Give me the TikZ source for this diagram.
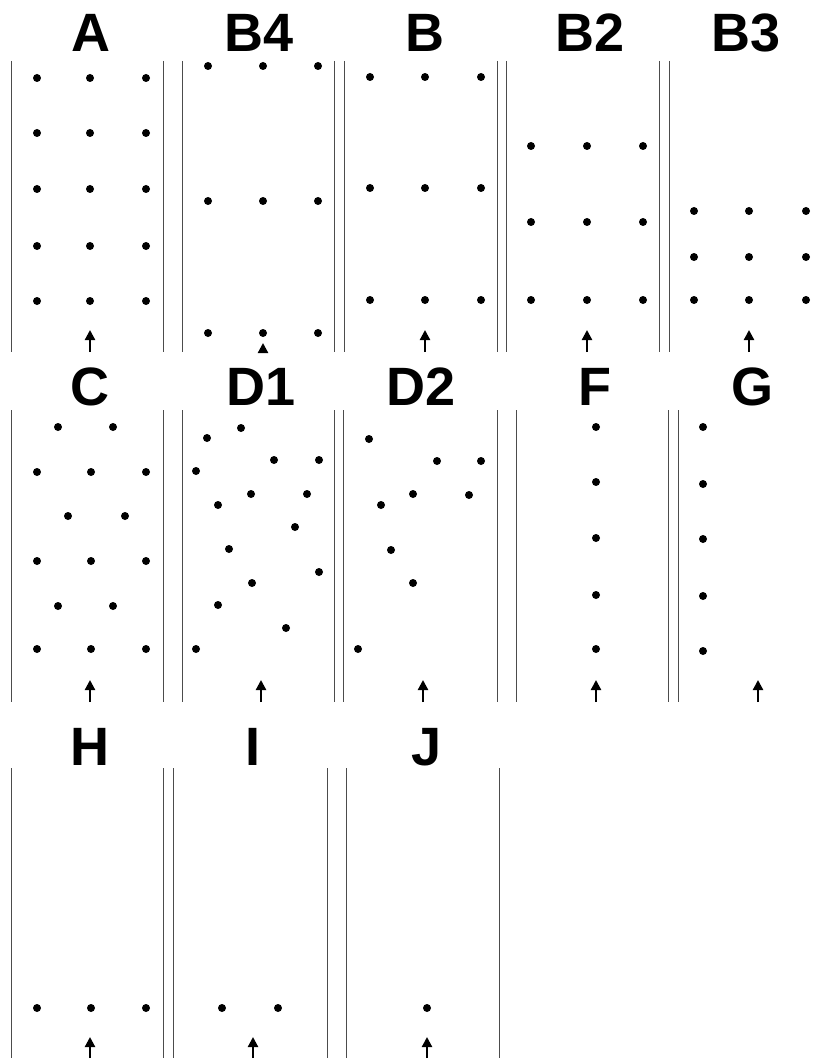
\documentclass[tikz,border=0pt]{standalone}
\usepackage{fontspec}
\setmainfont{Liberation Sans}
\usetikzlibrary{arrows.meta}
\tikzset{
    wall/.style={draw=black!70, line width=1pt},
    pdot/.style={fill=black},
    pointer/.style={-{Triangle[width=10pt, length=10pt]}, line width=2.2pt, black},
    ttl/.style={anchor=base, inner sep=0pt, font=\fontsize{54}{54}\selectfont\bfseries}
}
\begin{document}
\begin{tikzpicture}[x=1pt, y=-1pt]
    \useasboundingbox (0,0) rectangle (820,1059);
    % titles
    \foreach \x/\y/\t in {91/52/A, 259/52/B4, 425/52/B, 590/52/B2, 746/52/B3,
                          90/405/C, 261/405/D1, 421/405/D2, 595/405/F, 752/405/G,
                          90/765/H, 253/765/I, 427/765/J}
        \node[ttl] (title\t) at (\x,\y) {\t};
    % channel walls
    \foreach \x in {11, 163, 182, 334, 344, 497, 506, 659, 669}
        \draw[wall] (\x,61) -- (\x,352);
    \foreach \x in {11, 163, 182, 334, 343, 497, 516, 668, 678}
        \draw[wall] (\x,410) -- (\x,702);
    \foreach \x in {11, 163, 173, 327, 346, 499}
        \draw[wall] (\x,768) -- (\x,1058);
    % row 1
    \foreach \x in {37, 90, 146}
        \foreach \y in {78, 133, 189, 246, 301}
            \fill[pdot] (\x,\y) circle (4pt);
    \foreach \x in {208, 263, 318}
        \foreach \y in {66, 201, 333}
            \fill[pdot] (\x,\y) circle (4pt);
    \foreach \x in {370, 425, 481}
        \foreach \y in {77, 188, 300}
            \fill[pdot] (\x,\y) circle (4pt);
    \foreach \x in {531, 587, 643}
        \foreach \y in {146, 222, 300}
            \fill[pdot] (\x,\y) circle (4pt);
    \foreach \x in {694, 749, 806}
        \foreach \y in {211, 257, 300}
            \fill[pdot] (\x,\y) circle (4pt);
    % row 2
    \foreach \p in {(58,427), (113,427), (37,472), (91,472), (146,472),
                    (68,516), (125,516), (37,561), (91,561), (146,561),
                    (58,606), (113,606), (37,649), (91,649), (146,649)}
        \fill[pdot] \p circle (4pt);
    \foreach \p in {(207,438), (241,428), (196,471), (274,460), (319,460),
                    (218,505), (251,494), (307,494), (295,527), (229,549),
                    (319,572), (252,583), (218,605), (286,628), (196,649)}
        \fill[pdot] \p circle (4pt);
    \foreach \p in {(369,439), (437,461), (481,461), (381,505), (413,494),
                    (469,495), (391,550), (413,583), (358,649)}
        \fill[pdot] \p circle (4pt);
    \foreach \y in {427, 482, 538, 595, 649}
        \fill[pdot] (596,\y) circle (4pt);
    \foreach \y in {427, 484, 539, 596, 651}
        \fill[pdot] (703,\y) circle (4pt);
    % row 3
    \foreach \p in {(37,1008), (91,1008), (146,1008), (222,1008), (278,1008), (427,1008)}
        \fill[pdot] \p circle (4pt);
    % flow arrows
    \foreach \x/\yb/\yt/\n in {90/352/330/A, 263/352/343/B4, 425/352/330/B, 587/352/330/B2, 749/352/330/B3,
                               90/702/680/C, 261/702/680/D1, 423/702/680/D2, 596/702/680/F, 758/702/680/G,
                               90/1058/1037/H, 253/1058/1037/I, 427/1058/1037/J}
    {
        \coordinate (base\n) at (\x,\yb);
        \coordinate (tip\n) at (\x,\yt);
        \draw[pointer] (base\n) -- (tip\n);
    }
\end{tikzpicture}
\end{document}
